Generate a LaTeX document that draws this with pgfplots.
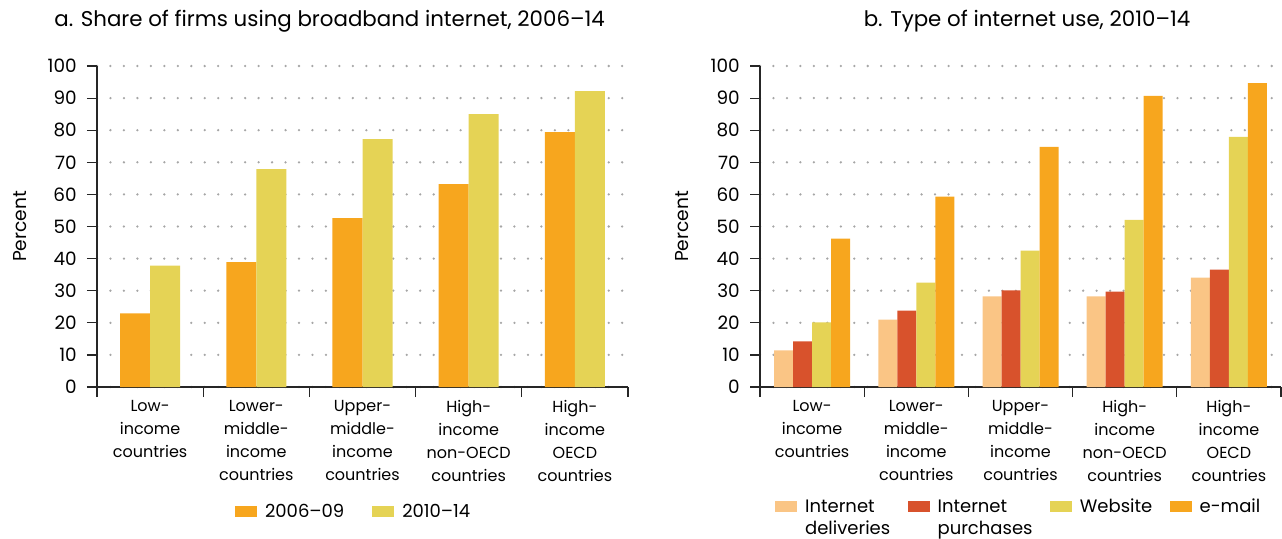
\documentclass[border=0pt]{standalone}
\usepackage{fontspec}
\setmainfont{Poppins}
\usepackage{pgfplots}
\pgfplotsset{compat=1.18}
\definecolor{cOr}{RGB}{247,166,30}
\definecolor{cYe}{RGB}{229,211,85}
\definecolor{cPe}{RGB}{250,197,133}
\definecolor{cRe}{RGB}{216,82,44}
\newcommand{\twoline}[2]{\vtop{\hbox{#1}\hbox{#2}}}
\pgfplotsset{
  patchleg/.style={legend image code/.code={\fill[##1] (0pt,-4.1pt) rectangle (16.5pt,4.1pt);}},
  common/.style={
    scale only axis,
    height=240.75pt,
    xmin=0, xmax=5, ymin=0, ymax=100,
    enlarge x limits=false,
    axis x line=bottom, axis y line=left,
    axis line style={-, black!85, line width=0.9pt},
    ytick={0,10,...,100},
    xtick={0,1,2,3,4,5}, xticklabels={},
    extra x ticks={0.5,1.5,2.5,3.5,4.5},
    extra x tick labels={{Low-\\income\\countries},{Lower-\\middle-\\income\\countries},{Upper-\\middle-\\income\\countries},{High-\\income\\non-OECD\\countries},{High-\\income\\OECD\\countries}},
    extra x tick style={major tick length=0pt},
    tick align=outside, major tick length=7.5pt,
    tick style={black!85, line width=0.9pt},
    ymajorgrids,
    grid style={gray!70, line width=1.9pt, line cap=round, dash pattern=on 0pt off 10.1pt},
    /pgf/number format/assume math mode=true,
    y tick label style={font=\fontsize{13.8}{16}\selectfont, inner sep=0pt, xshift=-7.5pt},
    x tick label style={font=\fontsize{12}{17.25}\selectfont, align=center, anchor=north, yshift=-6.5pt},
    ylabel={Percent},
    ylabel style={font=\fontsize{14}{16}\selectfont},
    title style={font=\fontsize{16}{18}\selectfont, anchor=base},
    ybar=0pt,
    every axis plot post/.append style={patchleg},
    legend style={draw=none, fill=none, inner sep=0pt, outer sep=0pt,
      font=\fontsize{13.5}{16.5}\selectfont, anchor=north west,
      nodes={inner sep=0pt},
      /tikz/every odd column/.append style={column sep=6pt}},
  }
}
\begin{document}
\begin{tikzpicture}
\useasboundingbox (0,0) rectangle (961.5pt,-404.25pt);
\begin{axis}[common,
  at={(72.75pt,-290.25pt)}, anchor=south west,
  width=398.25pt,
  bar width=22.5pt,
  title={a. Share of firms using broadband internet, 2006--14},
  title style={at={(axis description cs:0.438,1.097)}},
  ylabel style={at={(axis description cs:-0.145,0.5)}, anchor=center},
  legend columns=2,
  legend style={at={(axis description cs:0.26,-0.364)},
    /tikz/every even column/.append style={column sep=21pt}},
]
\addplot[fill=cOr, draw=none] coordinates {(0.5,22.9) (1.5,38.9) (2.5,52.6) (3.5,63.2) (4.5,79.4)};
\addplot[fill=cYe, draw=none] coordinates {(0.5,37.8) (1.5,67.9) (2.5,77.2) (3.5,85.0) (4.5,92.2)};
\legend{2006--09, 2010--14}
\end{axis}
\begin{axis}[common,
  at={(570pt,-290.25pt)}, anchor=south west,
  width=390.75pt,
  bar width=14.25pt,
  title={b. Type of internet use, 2010--14},
  title style={at={(axis description cs:0.5125,1.097)}},
  ylabel style={at={(axis description cs:-0.150,0.5)}, anchor=center},
  legend columns=4,
  legend style={at={(axis description cs:0.029,-0.349)},
    /tikz/every even column/.append style={column sep=13pt}},
]
\addplot[fill=cPe, draw=none] coordinates {(0.5,11.4) (1.5,21.0) (2.5,28.2) (3.5,28.2) (4.5,34.1)};
\addplot[fill=cRe, draw=none] coordinates {(0.5,14.2) (1.5,23.8) (2.5,30.1) (3.5,29.7) (4.5,36.6)};
\addplot[fill=cYe, draw=none] coordinates {(0.5,20.1) (1.5,32.5) (2.5,42.5) (3.5,52.1) (4.5,77.9)};
\addplot[fill=cOr, draw=none] coordinates {(0.5,46.2) (1.5,59.3) (2.5,74.8) (3.5,90.7) (4.5,94.7)};
\legend{{\twoline{Internet}{deliveries}}, {\twoline{Internet}{purchases}}, Website, e-mail}
\end{axis}
\end{tikzpicture}
\end{document}
